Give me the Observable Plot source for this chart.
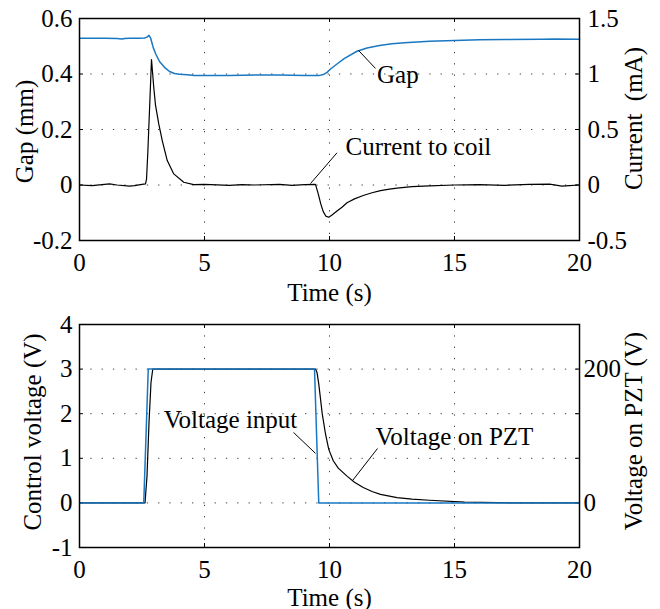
<!DOCTYPE html>
<html><head><meta charset="utf-8">
<script src="https://cdn.jsdelivr.net/npm/d3@7"></script>
<script src="https://cdn.jsdelivr.net/npm/@observablehq/plot@0.6"></script>
<style>
body{margin:0;background:#fff;}
#chart{width:660px;height:609px;background:#fff;}
#chart svg{display:block;}
</style></head><body><div id="chart"></div>
<script>
// ---- axes / ticks ----
const timeTicks = [0, 5, 10, 15, 20];
const gapTicks = [-0.2, 0, 0.2, 0.4, 0.6];        // Gap (mm), left, top panel
const currentTicks = [-0.5, 0, 0.5, 1, 1.5];      // Current (mA), right, top panel
const ctrlTicks = [-1, 0, 1, 2, 3, 4];            // Control voltage (V), left, bottom panel
const pztTicks = [0, 200];                        // Voltage on PZT (V), right, bottom panel

// ---- top panel series ----
const gapT = [0, 0.5, 1.0, 1.5, 1.7, 1.8, 2.0, 2.4, 2.6, 2.7, 2.78, 2.85, 2.95, 3.05, 3.2, 3.4, 3.6, 3.8, 4.0, 4.3, 4.6, 5, 6, 7, 8, 9, 9.4, 9.6, 9.75, 9.9, 10.04, 10.3, 10.6, 11.1, 11.5, 12, 12.5, 13, 14, 15, 16, 17, 18.5, 19, 20];
const gapMM = [0.529, 0.529, 0.529, 0.528, 0.526, 0.528, 0.529, 0.529, 0.530, 0.533, 0.539, 0.528, 0.495, 0.472, 0.445, 0.424, 0.409, 0.402, 0.399, 0.397, 0.395, 0.395, 0.395, 0.396, 0.396, 0.395, 0.395, 0.395, 0.398, 0.406, 0.418, 0.436, 0.456, 0.482, 0.494, 0.503, 0.509, 0.513, 0.518, 0.521, 0.523, 0.524, 0.525, 0.526, 0.525];

const curT = [0, 0.5, 1.0, 1.2, 1.5, 2.0, 2.2, 2.5, 2.64, 2.68, 2.73, 2.81, 2.88, 2.97, 3.04, 3.17, 3.31, 3.51, 3.77, 4.17, 4.57, 5, 6, 6.5, 7, 8, 8.5, 9, 9.44, 9.55, 9.65, 9.75, 9.85, 9.97, 10.1, 10.3, 10.5, 10.7, 11.0, 11.35, 11.7, 12.04, 12.4, 12.7, 13.3, 14, 15, 16, 17, 18, 18.8, 19.3, 19.6, 20];
const curMA = [0, -0.005, 0.005, 0.01, 0, -0.01, -0.005, 0.005, 0.01, 0.05, 0.28, 0.73, 1.13, 0.88, 0.72, 0.55, 0.40, 0.22, 0.10, 0.025, 0.004, 0.005, -0.003, 0.004, 0, 0.005, -0.004, 0.004, 0.005, -0.08, -0.17, -0.24, -0.28, -0.29, -0.27, -0.235, -0.2, -0.16, -0.125, -0.095, -0.07, -0.05, -0.038, -0.028, -0.015, -0.008, 0, 0.003, -0.003, 0.005, 0.008, -0.01, -0.005, 0];

// ---- bottom panel series ----
const inT = [0, 2.57, 2.75, 9.4, 9.57, 20];
const inV = [0, 0, 3, 3, 0, 0];                   // Control voltage (V)
const pztT = [0, 2.62, 2.7, 2.78, 2.86, 2.93, 9.44, 9.5, 9.57, 9.71, 9.84, 9.97, 10.15, 10.35, 10.7, 11.0, 11.35, 11.7, 12.04, 12.7, 13.3, 14, 15.4, 16.7, 17.5, 20];
const pztV = [0, 0, 40, 120, 180, 200, 200, 195, 178, 133, 103, 80, 63, 52, 40, 31, 23, 17, 12.7, 8, 5.7, 4, 1.3, 0.3, 0, 0]; // Voltage on PZT (V)

// ---- annotation labels ----
const topLabels = ["Gap", "Current to coil"];
const bottomLabels = ["Voltage input", "Voltage on PZT"];

// ---- tables ----
const gapSeries = gapT.map((t, i) => ({t, v: gapMM[i]}));
const curSeries = curT.map((t, i) => ({t, v: curMA[i]}));
const inSeries = inT.map((t, i) => ({t, v: inV[i]}));
const pztSeries = pztT.map((t, i) => ({t, v: pztV[i]}));

// right-axis to left-axis linear maps (axes share the frame)
const curToGap = d3.scaleLinear().domain([currentTicks[0], currentTicks[currentTicks.length - 1]]).range([gapTicks[0], gapTicks[gapTicks.length - 1]]);
const pztToCtrl = d3.scaleLinear().domain([0, 200]).range([0, 3]);

const fmt = d => String(+(+d).toFixed(3));
const blue = "#1a78c2";
const font = "'Liberation Serif', 'Times New Roman', serif";
const gridStyle = {stroke: "#000", strokeOpacity: 0.75, strokeDasharray: "1.3,10", strokeWidth: 1};
const W = 660, ML = 79, MR = 81, TK = 4;
const FW = W - ML - MR;

const topAnn = [
  {label: topLabels[0], t: 11.9, y: 0.395, t1: 11.16, y1: 0.485, t2: 11.84, y2: 0.42},
  {label: topLabels[1], t: 10.64, y: curToGap(0.342), t1: 9.24, y1: curToGap(0.013), t2: 10.3, y2: curToGap(0.29)}
];
const botAnn = [
  {label: bottomLabels[0], t: 3.37, y: 1.85, t1: 8.56, y1: 1.58, t2: 9.44, y2: 1.11},
  {label: bottomLabels[1], t: 11.84, y: 1.47, t1: 11.92, y1: 1.22, t2: 10.92, y2: 0.50}
];

function innerTicks(yTicks, yRightTicks, FH) {
  const s = {stroke: "#000", strokeWidth: 1};
  return [
    Plot.tickX(timeTicks, {x: d => d, insetTop: FH - TK, ...s}),
    Plot.tickX(timeTicks, {x: d => d, insetBottom: FH - TK, ...s}),
    Plot.tickY(yTicks, {y: d => d, insetRight: FW - TK, ...s}),
    Plot.tickY(yRightTicks, {y: d => d, insetLeft: FW - TK, ...s})
  ];
}

const topFH = 300 - 18 - 60;
const topPlot = Plot.plot({
  width: W, height: 300,
  marginLeft: ML, marginRight: MR, marginTop: 18, marginBottom: 60,
  style: {fontFamily: font, fontSize: "25px", color: "#000", background: "#fff", overflow: "visible"},
  x: {domain: [0, 20]},
  y: {domain: [gapTicks[0], gapTicks[gapTicks.length - 1]]},
  marks: [
    Plot.gridX(timeTicks, gridStyle),
    Plot.gridY(gapTicks, gridStyle),
    ...innerTicks(gapTicks, currentTicks.map(c => curToGap(c)), topFH),
    Plot.line(curSeries, {x: "t", y: d => curToGap(d.v), stroke: "#000", strokeWidth: 1.2}),
    Plot.line(gapSeries, {x: "t", y: "v", stroke: blue, strokeWidth: 1.5}),
    Plot.link(topAnn, {x1: "t1", y1: "y1", x2: "t2", y2: "y2", stroke: "#000", strokeWidth: 1}),
    Plot.text(topAnn, {x: "t", y: "y", text: "label", textAnchor: "start", lineAnchor: "middle"}),
    Plot.frame({stroke: "#000", strokeWidth: 1.5}),
    Plot.axisX(timeTicks, {anchor: "bottom", tickSize: 0, tickPadding: 13, tickFormat: fmt, label: null}),
    Plot.axisY(gapTicks, {anchor: "left", tickSize: 0, tickPadding: 7, tickFormat: fmt, label: null}),
    Plot.axisY(currentTicks.map(c => curToGap(c)), {anchor: "right", tickSize: 0, tickPadding: 8, tickFormat: d => fmt(curToGap.invert(d)), label: null}),
    Plot.text(["Time (s)"], {text: d => d, frameAnchor: "bottom", dy: 52, lineAnchor: "middle", textAnchor: "middle"}),
    Plot.text(["Gap (mm)"], {text: d => d, frameAnchor: "left", rotate: -90, dx: -55, dy: 2, textAnchor: "middle", lineAnchor: "middle"}),
    Plot.text(["Current  (mA)"], {text: d => d, frameAnchor: "right", rotate: -90, dx: 54, dy: -11, textAnchor: "middle", lineAnchor: "middle"})
  ]
});

const botFH = 309 - 24 - 62;
const botPlot = Plot.plot({
  width: W, height: 309,
  marginLeft: ML, marginRight: MR, marginTop: 24, marginBottom: 62,
  style: {fontFamily: font, fontSize: "25px", color: "#000", background: "#fff", overflow: "visible"},
  x: {domain: [0, 20]},
  y: {domain: [ctrlTicks[0], ctrlTicks[ctrlTicks.length - 1]]},
  marks: [
    Plot.gridX(timeTicks, gridStyle),
    Plot.gridY(ctrlTicks, gridStyle),
    ...innerTicks(ctrlTicks, ctrlTicks, botFH),
    Plot.line(pztSeries, {x: "t", y: d => pztToCtrl(d.v), stroke: "#000", strokeWidth: 1.2}),
    Plot.line(inSeries, {x: "t", y: "v", stroke: blue, strokeWidth: 1.5}),
    Plot.link(botAnn, {x1: "t1", y1: "y1", x2: "t2", y2: "y2", stroke: "#000", strokeWidth: 1}),
    Plot.text(botAnn, {x: "t", y: "y", text: "label", textAnchor: "start", lineAnchor: "middle"}),
    Plot.frame({stroke: "#000", strokeWidth: 1.5}),
    Plot.axisX(timeTicks, {anchor: "bottom", tickSize: 0, tickPadding: 13, tickFormat: fmt, label: null}),
    Plot.axisY(ctrlTicks, {anchor: "left", tickSize: 0, tickPadding: 7, tickFormat: fmt, label: null}),
    Plot.axisY(pztTicks.map(p => pztToCtrl(p)), {anchor: "right", tickSize: 0, tickPadding: 4, tickFormat: d => fmt(pztToCtrl.invert(d)), label: null}),
    Plot.text(["Time (s)"], {text: d => d, frameAnchor: "bottom", dy: 50, lineAnchor: "middle", textAnchor: "middle"}),
    Plot.text(["Control voltage (V)"], {text: d => d, frameAnchor: "left", rotate: -90, dx: -47, dy: -4, textAnchor: "middle", lineAnchor: "middle"}),
    Plot.text(["Voltage on PZT (V)"], {text: d => d, frameAnchor: "right", rotate: -90, dx: 54, dy: -5, textAnchor: "middle", lineAnchor: "middle"})
  ]
});

const chart = document.getElementById("chart");
chart.appendChild(topPlot);
chart.appendChild(botPlot);
</script>
</body></html>
